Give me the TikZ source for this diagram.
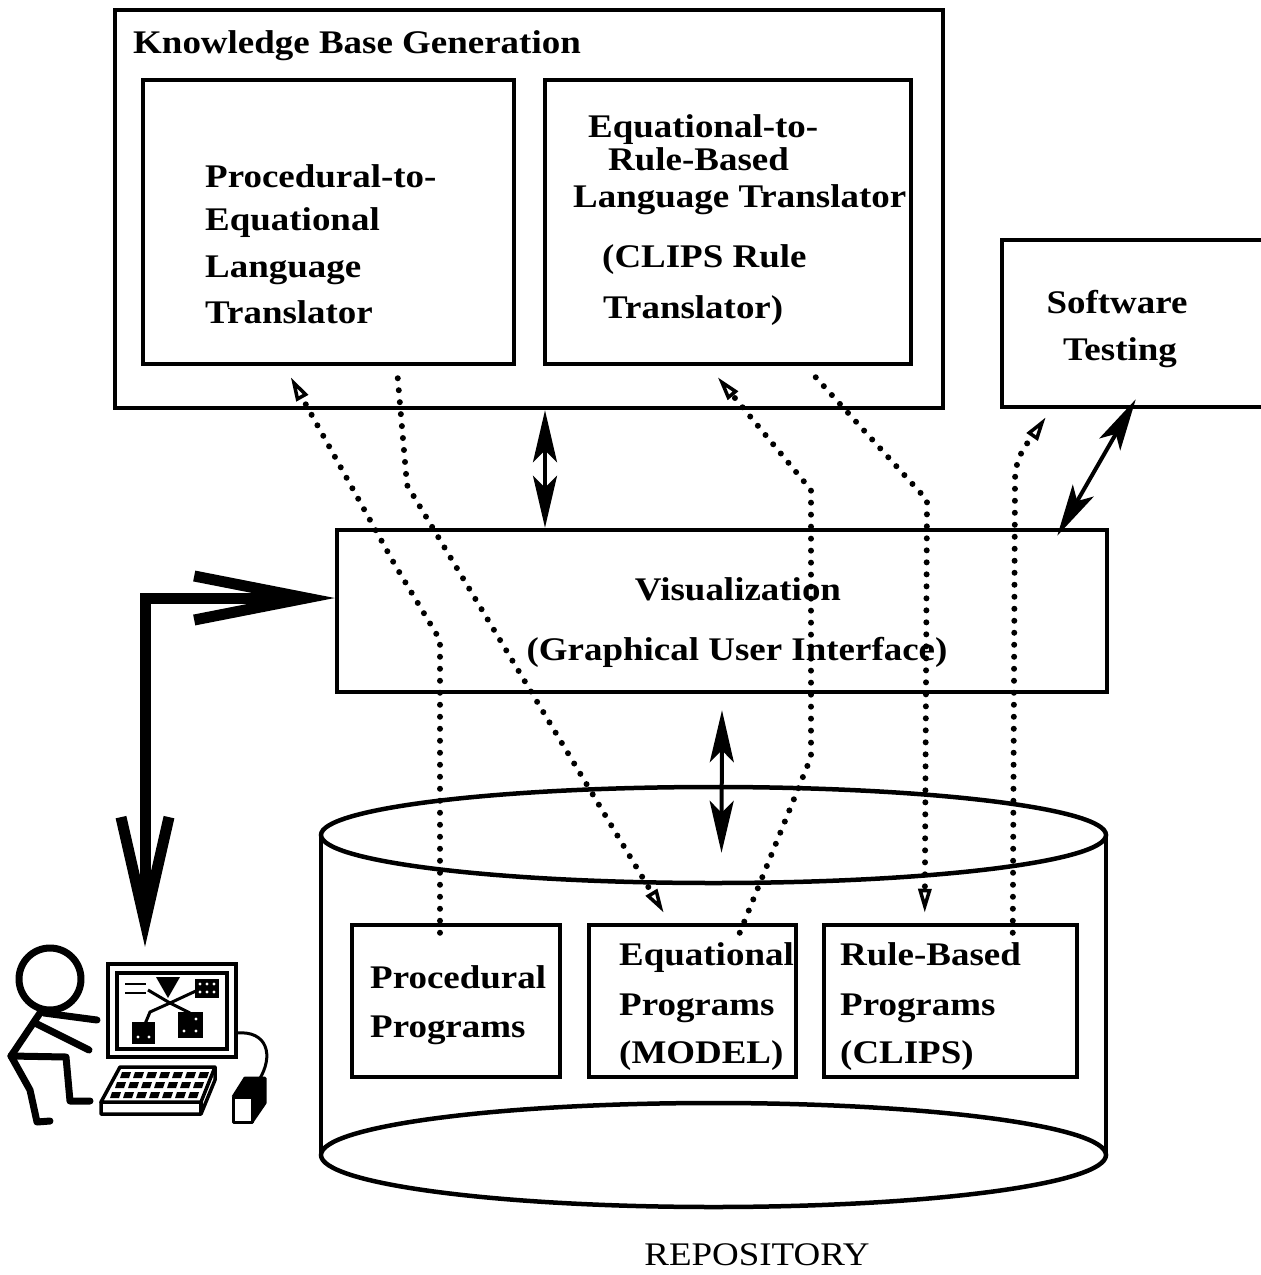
\documentclass[tikz,border=0pt]{standalone}
\usepackage{fontspec}
\setmainfont{Liberation Serif}[FakeStretch=1.12]
\usetikzlibrary{arrows.meta,calc}

\begin{document}
\begin{tikzpicture}[x=1pt,y=-1pt,
  box/.style={draw, line width=4.5pt, inner sep=0pt},
  lbl/.style={anchor=base west, inner sep=0pt, font=\fontsize{33}{40}\selectfont\bfseries},
  clbl/.style={anchor=base, inner sep=0pt, font=\fontsize{33}{40}\selectfont\bfseries},
  dots/.style={line width=6pt, line cap=round, dash pattern=on 0pt off 12pt,
    -{Triangle[open,length=24pt,width=13pt,line width=3.5pt]}},
  dbl/.style={line width=4pt,
    {Stealth[length=52pt,width=24pt,inset=12pt]}-{Stealth[length=52pt,width=24pt,inset=12pt]}},
  bigarrow/.style={line width=11pt,
    {Straight Barb[length=105pt,width=48pt]}-{Straight Barb[length=112pt,width=44pt]}},
  stick/.style={line width=7pt, line cap=round, line join=round},
]
\useasboundingbox (0,0) rectangle (1261,1275);

% ---------- boxes ----------
\node[box, minimum width=828pt, minimum height=398pt] (kb) at (529,209) {};
\node[box, minimum width=371pt, minimum height=284pt] (pe) at (328.5,222) {};
\node[box, minimum width=366pt, minimum height=284pt] (er) at (728,222) {};
\node[box, minimum width=298pt, minimum height=167pt] (st) at (1151,323.5) {};
\node[box, minimum width=770pt, minimum height=162pt] (vis) at (722,611) {};
\node[box, minimum width=208pt, minimum height=152pt] (procprog) at (456,1001) {};
\node[box, minimum width=207pt, minimum height=152pt] (eqprog) at (692.5,1001) {};
\node[box, minimum width=253pt, minimum height=152pt] (ruleprog) at (950.5,1001) {};

% ---------- repository cylinder ----------
\node[inner sep=0pt, minimum width=785pt, minimum height=420pt] (repo) at (713.5,997) {};
\draw[line width=4.5pt] (713.5,835) ellipse [x radius=392.5pt, y radius=48pt];
\draw[line width=4.5pt] (713.5,1155) ellipse [x radius=392.5pt, y radius=52pt];
\draw[line width=4.5pt] (321,835) -- (321,1155) (1106,835) -- (1106,1155);

% ---------- texts ----------
\node[lbl] (t-kb) at (133,53) {Knowledge Base Generation};

\node[lbl] (t-pe1) at (205,187) {Procedural-to-};
\node[lbl] (t-pe2) at (205,230) {Equational};
\node[lbl] (t-pe3) at (205,277) {Language};
\node[lbl] (t-pe4) at (205,323) {Translator};

\node[lbl] (t-er1) at (588,137) {Equational-to-};
\node[lbl] (t-er2) at (608,170) {Rule-Based};
\node[lbl] (t-er3) at (573,207) {Language Translator};
\node[lbl] (t-er4) at (602,267) {(CLIPS Rule};
\node[lbl] (t-er5) at (603,318) {Translator)};

\node[clbl] (t-st1) at (1117,313) {Software};
\node[clbl] (t-st2) at (1120,360) {Testing};

\node[clbl] (t-vis1) at (738,600) {Visualization};
\node[clbl] (t-vis2) at (737,660) {(Graphical User Interface)};

\node[lbl] (t-pp1) at (370,988) {Procedural};
\node[lbl] (t-pp2) at (370,1037) {Programs};
\node[lbl] (t-ep1) at (619,965) {Equational};
\node[lbl] (t-ep2) at (619,1015) {Programs};
\node[lbl] (t-ep3) at (619,1063) {(MODEL)};
\node[lbl] (t-rp1) at (840,965) {Rule-Based};
\node[lbl] (t-rp2) at (840,1015) {Programs};
\node[lbl] (t-rp3) at (840,1063) {(CLIPS)};

\node[anchor=base, inner sep=0pt, font=\fontsize{33}{40}\selectfont] (t-repo) at (757,1265) {REPOSITORY};

% ---------- solid double arrows ----------
\draw[dbl] ([xshift=16pt]kb.south) -- ([xshift=-177pt]vis.north);
\draw[dbl] ([yshift=-16pt]vis.south) -- ([xshift=8pt,yshift=-66pt]repo.north);
\coordinate (stB) at ([xshift=136pt,yshift=10pt]st.south west);
\coordinate (visC) at ([xshift=-52pt,yshift=-8pt]vis.north east);
\draw[dbl] (stB) -- (visC);

% ---------- dotted translation flows ----------
\coordinate (d1s) at ([xshift=-16pt,yshift=-10pt]procprog.north);
\coordinate (d1e) at ([xshift=150pt,yshift=-11pt]pe.south west);
\draw[dots] (d1s) -- (440,640) -- (395,565) -- (d1e);

\coordinate (d2s) at ([xshift=257pt,yshift=-12pt]pe.south west);
\coordinate (d2e) at ([xshift=77pt,yshift=10pt]eqprog.north west);
\draw[dots] (d2s) -- (407,485) -- (d2e);

\coordinate (d3s) at ([xshift=153pt,yshift=-10pt]eqprog.north west);
\coordinate (d3e) at ([xshift=175pt,yshift=-11pt]er.south west);
\draw[dots] (d3s) -- (811,757) -- (811,490) -- (d3e);

\coordinate (d4s) at ([xshift=273pt,yshift=-11pt]er.south west);
\coordinate (d4e) at ([xshift=103pt,yshift=10pt]ruleprog.north west);
\draw[dots] (d4s) -- (927,500) -- (d4e);

\coordinate (d5s) at ([xshift=191pt,yshift=-10pt]ruleprog.north west);
\coordinate (d5e) at ([xshift=46pt,yshift=-8pt]st.south west);
\draw[dots] (d5s) -- (1015,480) .. controls (1015,455) and (1030,440) .. (d5e);

% ---------- user at workstation ----------
\node[inner sep=0pt, minimum width=262pt, minimum height=180pt] (user) at (145,1037) {};
\draw[bigarrow] (user.north) |- ([yshift=13pt]vis.west);

% stick figure
\draw[stick] (50,979) circle [radius=31pt];
\draw[stick] (42,1010) -- (11,1056);
\draw[stick] (44,1013) -- (97,1020);
\draw[stick] (35,1023) -- (89,1050);
\draw[stick] (11,1056) -- (66,1057) -- (70,1101) -- (90,1101);
\draw[stick] (11,1056) -- (30,1090) -- (37,1122) -- (50,1121);

% monitor
\draw[line width=4pt] (108,964) rectangle (236,1057);
\draw[line width=3.5pt] (117,973) rectangle (227,1049);
\draw[line width=2.5pt] (125,984) -- (146,984) (125,993) -- (146,993);
\fill (156,977) -- (180,977) -- (168,998) -- cycle;
\fill (195,979) rectangle (219,998);
\fill[white] (200,984) circle [radius=1.6pt] (207,984) circle [radius=1.6pt] (214,984) circle [radius=1.6pt]
             (200,992) circle [radius=1.6pt] (207,992) circle [radius=1.6pt] (214,992) circle [radius=1.6pt];
\draw[line width=3pt] (148,990) -- (170,1003) -- (198,990);
\draw[line width=3pt] (170,1003) -- (150,1012) -- (145,1024);
\draw[line width=3pt] (170,1003) -- (190,1013);
\fill (132,1022) rectangle (155,1044);
\fill (178,1012) rectangle (203,1038);
\fill[white] (138,1037) circle [radius=1.6pt] (149,1037) circle [radius=1.6pt]
             (184,1031) circle [radius=1.6pt] (196,1031) circle [radius=1.6pt] (196,1019) circle [radius=1.6pt];

% cable and mouse
\draw[line width=3pt] (236,1033) .. controls (268,1030) and (274,1056) .. (259,1080);
\fill (233,1097) -- (245,1078) -- (265,1078) -- (265,1103) -- (252,1122) -- (252,1097) -- cycle;
\draw[line width=3pt, line join=round] (233,1097) rectangle (252,1122);
\draw[line width=3pt, line join=round] (233,1097) -- (245,1078) -- (265,1078) -- (265,1103) -- (252,1122);

% keyboard
\draw[line width=3.5pt, line join=round] (120,1067) -- (215,1067) -- (201,1102) -- (101,1102) -- cycle;
\draw[line width=3.5pt, line join=round] (101,1102) -- (101,1114) -- (201,1114) -- (215,1080) -- (215,1067);
\draw[line width=3.5pt] (201,1102) -- (201,1114);
\foreach \r/\xs in {0/122,1/117,2/112} {
  \foreach \k in {0,...,6} {
    \fill ({\xs+13*\k},{1072+10*\r}) -- ({\xs+13*\k+9},{1072+10*\r}) -- ({\xs+13*\k+7},{1078+10*\r}) -- ({\xs+13*\k-2},{1078+10*\r}) -- cycle;
  }
}
\end{tikzpicture}
\end{document}
